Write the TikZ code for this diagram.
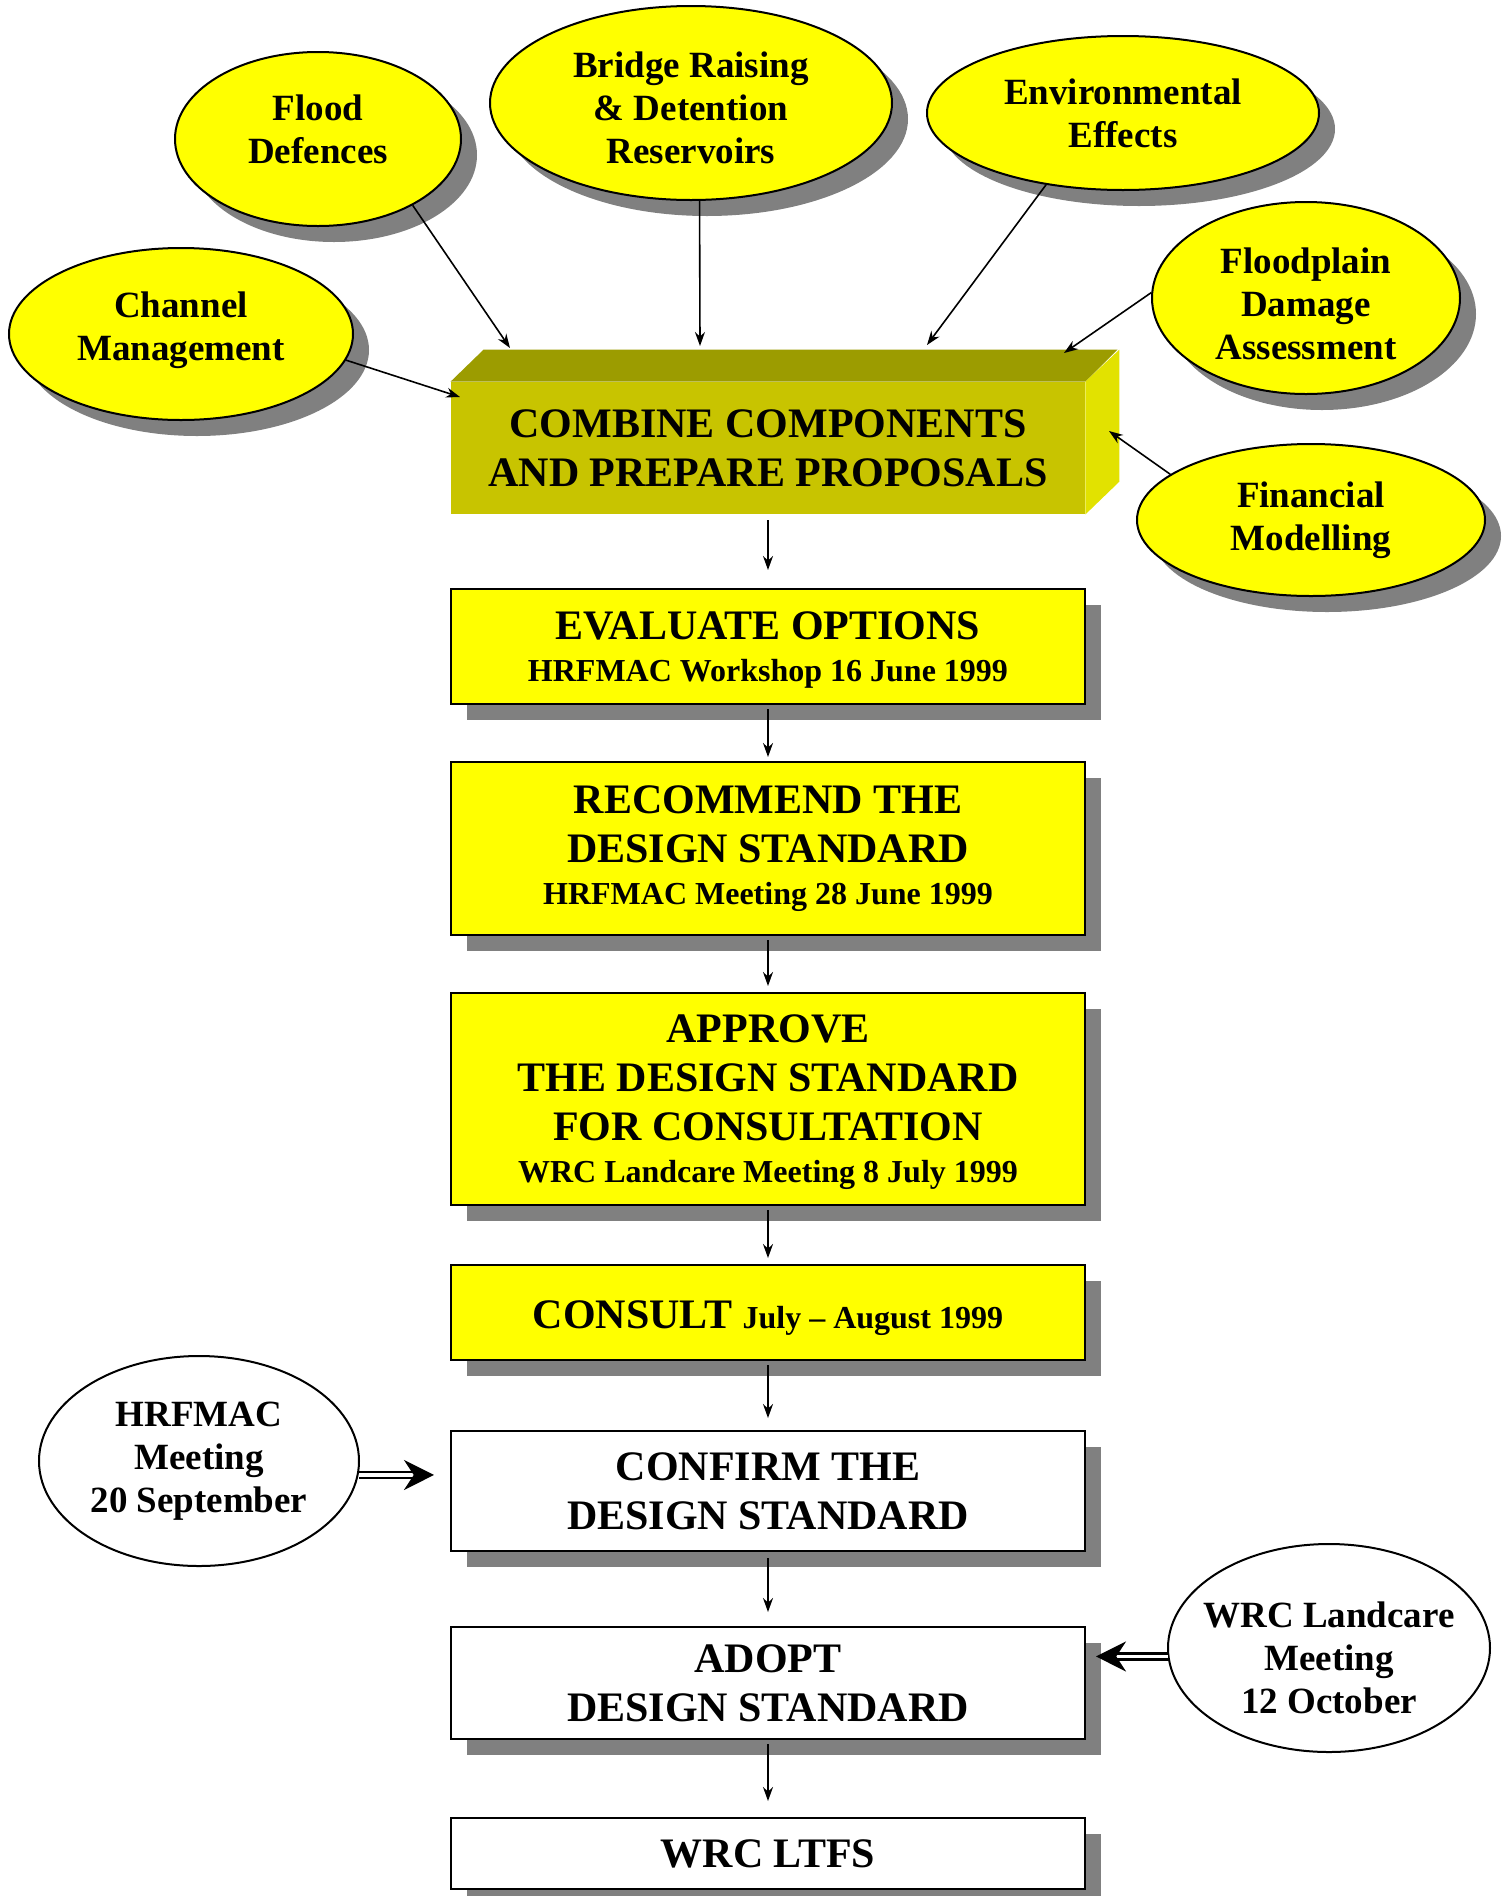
\documentclass[tikz,border=0pt]{standalone}
\usepackage{fontspec}
\setmainfont{Liberation Serif}
\usetikzlibrary{arrows.meta,shapes.geometric,shadows}
\definecolor{stageyellow}{RGB}{255,255,0}
\definecolor{frontolive}{RGB}{200,196,0}
\definecolor{topolive}{RGB}{156,156,0}
\definecolor{sideolive}{RGB}{226,226,0}
\definecolor{shadowgrey}{RGB}{128,128,128}
\newcommand{\sub}{\fontsize{16}{19}\selectfont}
\newcommand{\headroom}[1]{\rule{0pt}{#1}}
\newcommand{\footroom}[1]{\rule[-#1]{0pt}{#1}}

\begin{document}
\begin{tikzpicture}[x=0.5pt,y=-0.5pt,>={Stealth[length=7pt,width=5pt]}]
        \tikzstyle{shade}=[drop shadow={shadow xshift=8pt,shadow yshift=-8pt,opacity=1,fill=shadowgrey}]
        \tikzstyle{component}=[ellipse,draw=black,line width=1pt,fill=stageyellow,inner sep=-3pt,align=center,font=\fontsize{18.5}{21.5}\selectfont\bfseries,shade]
        \tikzstyle{meeting}=[ellipse,draw=black,line width=1pt,fill=white,inner xsep=-10pt,inner ysep=-3pt,align=center,font=\fontsize{18.5}{21.5}\selectfont\bfseries]
        \tikzstyle{stage}=[rectangle,draw=black,line width=1pt,fill=stageyellow,minimum width=317pt,inner sep=0pt,align=center,font=\fontsize{21}{24.5}\selectfont\bfseries,shade]
        \tikzstyle{outcome}=[stage,fill=white]
        \tikzstyle{link}=[draw,line width=0.8pt,->]
        \tikzstyle{feed}=[draw,double,double distance=1.6pt,line width=1.3pt,-{Stealth[length=15pt,width=15pt]}]
        \useasboundingbox (0,0) rectangle (1506,1896);
       \begin{scope}
         % the components
         \node [component,minimum width=143pt,minimum height=87pt] (flood) at (318,139) {Flood\\Defences\footroom{10pt}};
         \node [component,minimum width=201pt,minimum height=97pt] (bridge) at (691,103) {\headroom{17.6pt}Bridge Raising\\\& Detention\\Reservoirs};
         \node [component,minimum width=196pt,minimum height=77pt] (environ) at (1123,113) {Environmental\\Effects};
         \node [component,minimum width=172pt,minimum height=86pt] (channel) at (181,334) {Channel\\Management\footroom{8pt}};
         \node [component,minimum width=154pt,minimum height=96pt] (damage) at (1306,298) {\headroom{18.5pt}Floodplain\\Damage\\Assessment};
         \node [component,minimum width=174pt,minimum height=76pt] (finance) at (1311,520) {Financial\\Modelling};

         % the block
         \node [rectangle,fill=frontolive,minimum width=317pt,minimum height=66pt,align=center,font=\fontsize{21}{24.5}\selectfont\bfseries] (combine) at (768,448) {COMBINE COMPONENTS\\AND PREPARE PROPOSALS};
         \fill [topolive] (combine.north west) -- ++(33,-32) -- ++(634,0) -- (combine.north east) -- cycle;
         \fill [sideolive] (combine.north east) -- ++(34,-32) -- ++(0,132) -- (combine.south east) -- cycle;
         \coordinate (inflood) at (510,348);
         \coordinate (inbridge) at (700,346);
         \coordinate (inenviron) at (927,345);
         \coordinate (indamage) at (1064,353);
         \coordinate (infinance) at (1109,431);
         \coordinate (inchannel) at (460,397);

         % the stages
         \node [stage,minimum height=57.5pt] (evaluate) at (768,646.5) {\headroom{17pt}EVALUATE OPTIONS\\[-3.5pt]{\sub HRFMAC Workshop 16 June 1999}};
         \node [stage,minimum height=86.5pt] (recommend) at (768,848.5) {RECOMMEND THE\\DESIGN STANDARD\\[-3.5pt]{\sub HRFMAC Meeting 28 June 1999}};
         \node [stage,minimum height=106pt] (approve) at (768,1099) {\headroom{17pt}APPROVE\\THE DESIGN STANDARD\\FOR CONSULTATION\\[-3.5pt]{\sub WRC Landcare Meeting 8 July 1999}};
         \node [stage,minimum height=47.5pt] (consult) at (768,1312.5) {\headroom{20pt}CONSULT {\sub July -- August 1999}};
         \node [outcome,minimum height=60pt] (confirm) at (768,1491) {CONFIRM THE\\DESIGN STANDARD};
         \node [outcome,minimum height=56pt] (adopt) at (768,1683) {ADOPT\\DESIGN STANDARD};
         \node [outcome,minimum height=35.5pt] (ltfs) at (768,1853.5) {WRC LTFS};

         % the meetings
         \node [meeting,minimum width=160pt,minimum height=105pt] (hrfmac) at (199,1461) {HRFMAC\\Meeting\\20 September};
         \node [meeting,minimum width=161pt,minimum height=104pt] (landcare) at (1329,1648) {\headroom{23pt}WRC Landcare\\Meeting\\12 October};

         \path (flood.-35) edge[link] (inflood);
         \path (bridge.-85) edge[link] (inbridge);
         \path (environ.-137) edge[link] (inenviron);
         \path (damage.178) edge[link] (indamage);
         \path (finance.162) edge[link] (infinance);
         \path (channel.-9) edge[link] (inchannel);

         \path (combine) edge[link,shorten <=3pt,shorten >=9pt] (evaluate);
         \path (evaluate) edge[link,shorten <=2pt,shorten >=2pt] (recommend);
         \path (recommend) edge[link,shorten <=2pt,shorten >=3pt] (approve);
         \path (approve) edge[link,shorten <=2pt,shorten >=3pt] (consult);
         \path (consult) edge[link,shorten <=2pt,shorten >=6pt] (confirm);
         \path (confirm) edge[link,shorten <=3pt,shorten >=7pt] (adopt);
         \path (adopt) edge[link,shorten <=2pt,shorten >=8pt] (ltfs);

         \path (hrfmac.-5) edge[feed,shorten >=8pt] (hrfmac.-5 -| confirm.west);
         \path (landcare.183) edge[feed,shorten >=5pt] (landcare.183 -| adopt.east);
        \end{scope}
      \end{tikzpicture}
\end{document}
